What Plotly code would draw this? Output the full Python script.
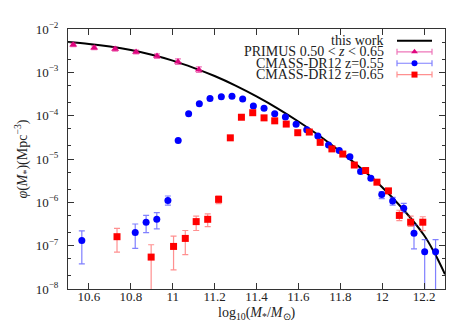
import plotly.graph_objects as go

# -----------------------------------------------------------------------------
# Dados (log10 M* e phi em Mpc^-3)
# -----------------------------------------------------------------------------
fit_x = [10.5, 10.6, 10.7, 10.8, 10.9, 11.0, 11.1, 11.2, 11.3, 11.4,
         11.5, 11.6, 11.7, 11.8, 11.9, 12.0, 12.1, 12.2, 12.25, 12.3]
fit_phi = [5.01e-3, 4.52e-3, 3.94e-3, 3.27e-3, 2.54e-3, 1.86e-3, 1.27e-3,
           8.22e-4, 4.95e-4, 2.79e-4, 1.48e-4, 7.33e-5, 3.43e-5, 1.48e-5,
           6.03e-6, 2.24e-6, 6.92e-7, 1.74e-7, 6.76e-8, 2.19e-8]

primus_x = [10.525, 10.625, 10.725, 10.825, 10.925, 11.025, 11.125]
primus_phi = [4.31e-3, 3.70e-3, 3.44e-3, 2.95e-3, 2.37e-3, 1.76e-3, 1.15e-3]
primus_hi = [4.80e-3, 4.10e-3, 3.80e-3, 3.28e-3, 2.66e-3, 2.05e-3, 1.33e-3]
primus_lo = [3.90e-3, 3.33e-3, 3.10e-3, 2.65e-3, 2.11e-3, 1.52e-3, 0.99e-3]

cmass55_x = [10.566, 10.821, 10.873, 10.924, 10.977,
             11.026, 11.076, 11.127, 11.178, 11.232, 11.283, 11.334, 11.385,
             11.436, 11.487, 11.538, 11.589, 11.640, 11.693, 11.744, 11.795,
             11.846, 11.897, 11.946, 11.998, 12.050, 12.103, 12.152, 12.203,
             12.255]
cmass55_phi = [1.31e-7, 2.00e-7, 3.48e-7, 4.06e-7, 1.10e-6,
               2.67e-5, 1.11e-4, 1.89e-4, 2.49e-4, 2.72e-4, 2.82e-4, 2.42e-4,
               1.68e-4, 1.49e-4, 1.11e-4, 9.35e-5, 6.32e-5, 4.71e-5, 3.40e-5,
               2.10e-5, 1.57e-5, 1.13e-5, 5.14e-6, 3.59e-6, 1.52e-6, 1.08e-6,
               7.26e-7, 1.93e-7, 7.2e-8, 7.2e-8]
cmass55_hi = [2.19e-7, 3.16e-7, 5.0e-7, 5.8e-7, 1.40e-6,
              2.78e-5, 1.15e-4, 1.95e-4, 2.57e-4, 2.81e-4, 2.91e-4, 2.50e-4,
              1.74e-4, 1.55e-4, 1.16e-4, 9.8e-5, 6.6e-5, 4.95e-5, 3.6e-5,
              2.23e-5, 1.68e-5, 1.22e-5, 5.6e-6, 3.95e-6, 1.75e-6, 1.30e-6,
              9.5e-7, 3.03e-7, 1.38e-7, 1.38e-7]
cmass55_lo = [3.80e-8, 8.7e-8, 2.0e-7, 2.43e-7, 8.6e-7,
              2.56e-5, 1.07e-4, 1.83e-4, 2.41e-4, 2.63e-4, 2.73e-4, 2.34e-4,
              1.62e-4, 1.43e-4, 1.06e-4, 8.9e-5, 6.0e-5, 4.47e-5, 3.2e-5,
              1.97e-5, 1.46e-5, 1.04e-5, 4.7e-6, 3.25e-6, 1.22e-6, 8.6e-7,
              5.8e-7, 8.4e-8, 1e-9, 1e-9]

cmass65_x = [10.734, 10.897, 11.004, 11.060, 11.112, 11.167, 11.219,
             11.275, 11.328, 11.382, 11.436, 11.487, 11.542, 11.597, 11.652,
             11.704, 11.760, 11.812, 11.867, 11.921, 11.975, 12.030, 12.082,
             12.136, 12.194]
cmass65_phi = [1.61e-7, 5.45e-8, 9.6e-8, 1.47e-7, 3.59e-7, 4.06e-7, 1.17e-6,
               3.08e-5, 9.2e-5, 1.17e-4, 8.9e-5, 7.6e-5, 6.4e-5, 4.04e-5,
               4.19e-5, 2.42e-5, 1.71e-5, 1.30e-5, 7.26e-6, 5.42e-6, 2.92e-6,
               1.84e-6, 4.99e-7, 3.48e-7, 3.48e-7]
cmass65_hi = [2.51e-7, 1.05e-7, 1.66e-7, 2.24e-7, 4.8e-7, 5.4e-7, 1.41e-6,
              3.2e-5, 9.6e-5, 1.22e-4, 9.3e-5, 7.95e-5, 6.7e-5, 4.25e-5,
              4.4e-5, 2.55e-5, 1.8e-5, 1.38e-5, 7.7e-6, 5.8e-6, 3.15e-6,
              2.05e-6, 6.56e-7, 4.81e-7, 4.65e-7]
cmass65_lo = [7.1e-8, 1e-9, 2.75e-8, 6.2e-8, 2.24e-7, 2.75e-7, 9.3e-7,
              2.96e-5, 8.8e-5, 1.12e-4, 8.5e-5, 7.25e-5, 6.1e-5, 3.83e-5,
              3.98e-5, 2.29e-5, 1.62e-5, 1.22e-5, 6.8e-6, 5.05e-6, 2.7e-6,
              1.65e-6, 3.78e-7, 2.77e-7, 2.22e-7]

x_ticks = [10.6, 10.8, 11.0, 11.2, 11.4, 11.6, 11.8, 12.0, 12.2]
x_labels = ["10.6", "10.8", "11", "11.2", "11.4", "11.6", "11.8", "12", "12.2"]
y_ticks = [1e-8, 1e-7, 1e-6, 1e-5, 1e-4, 1e-3, 1e-2]
y_labels = ["10<sup>−%d</sup>" % k for k in range(8, 1, -1)]
y_minor = [m * 10.0 ** e for e in range(-8, -2) for m in (2, 5)]

legend_labels = ["this work", "PRIMUS 0.50 &lt; <i>z</i> &lt; 0.65",
                 "CMASS-DR12 z=0.55", "CMASS-DR12 z=0.65"]
x_title = "log<sub>10</sub>(<i>M</i><sub>*</sub>/<i>M</i><sub>⊙</sub>)"
y_title = "<i>φ</i>(<i>M</i><sub>*</sub>)(Mpc<sup>−3</sup>)"

# -----------------------------------------------------------------------------
# Estilo
# -----------------------------------------------------------------------------
FONT = "Liberation Serif, Times New Roman, serif"
TEXT = "#222222"
AXIS = "#333333"
MAGENTA = "#e0067f"
BLUE = "#0000ff"
RED = "#ff0000"
SERIES = [
    # (x, phi, hi, lo, cor, cor da barra, símbolo, tamanho)
    (primus_x, primus_phi, primus_hi, primus_lo, MAGENTA, "rgba(224,6,127,0.55)", "triangle-up", 7),
    (cmass55_x, cmass55_phi, cmass55_hi, cmass55_lo, BLUE, "rgba(60,60,255,0.65)", "circle", 7),
    (cmass65_x, cmass65_phi, cmass65_hi, cmass65_lo, RED, "rgba(255,70,70,0.6)", "square", 7),
]

fig = go.Figure()

fig.add_trace(go.Scatter(x=fit_x, y=fit_phi, mode="lines", line_shape="spline",
                         line=dict(color="black", width=2), showlegend=False))

for xs, ys, hi, lo, col, ecol, sym, size in SERIES:
    fig.add_trace(go.Scatter(
        x=xs, y=ys, mode="markers", showlegend=False,
        marker=dict(color=col, symbol=sym, size=size, line=dict(width=0)),
        error_y=dict(type="data", symmetric=False,
                     array=[h - v for h, v in zip(hi, ys)],
                     arrayminus=[v - l for v, l in zip(ys, lo)],
                     color=ecol, thickness=1.2, width=3),
    ))

# Legenda no estilo gnuplot: eixo auxiliar em pixels (x: 60..437, y: 13..281)
leg_rows = [25, 36.5, 48.3, 60]
leg_x0, leg_x1, leg_text_x = 389, 424, 378
fig.add_trace(go.Scatter(x=[leg_x0, leg_x1], y=[leg_rows[0]] * 2, mode="lines",
                         line=dict(color="black", width=2), xaxis="x2", yaxis="y2",
                         showlegend=False, hoverinfo="skip"))
for row, (_, _, _, _, col, ecol, sym, size) in zip(leg_rows[1:], SERIES):
    mid = (leg_x0 + leg_x1) / 2
    fig.add_trace(go.Scatter(
        x=[mid], y=[row], mode="markers", xaxis="x2", yaxis="y2",
        showlegend=False, hoverinfo="skip",
        marker=dict(color=col, symbol=sym, size=size - 1),
        error_x=dict(type="constant", value=(leg_x1 - leg_x0) / 2,
                     color=ecol, thickness=1.2, width=3),
    ))
for row, label in zip(leg_rows, legend_labels):
    fig.add_annotation(x=leg_text_x, y=row, xref="x2", yref="y2", text=label,
                       showarrow=False, xanchor="right", yanchor="middle",
                       font=dict(family=FONT, size=14, color=TEXT))

# título do eixo x como anotação (papel), para controlar a posição vertical
fig.add_annotation(x=0.5, y=-0.095, xref="paper", yref="paper", text=x_title,
                   showarrow=False, xanchor="center", yanchor="middle",
                   font=dict(family=FONT, size=14, color=TEXT))

fig.update_layout(
    width=457, height=320,
    margin=dict(l=60, r=20, t=13, b=39),
    paper_bgcolor="white", plot_bgcolor="white",
    font=dict(family=FONT, size=13, color=TEXT),
    showlegend=False,
    xaxis=dict(
        range=[10.5, 12.3], tickvals=x_ticks, ticktext=x_labels,
        ticks="inside", ticklen=6, tickcolor=AXIS, showline=True,
        linecolor=AXIS, linewidth=1, mirror="ticks", showgrid=False,
        zeroline=False, ticklabelstandoff=-5,
    ),
    yaxis=dict(
        type="log", range=[-8, -2], tickvals=y_ticks, ticktext=y_labels,
        ticks="inside", ticklen=6, tickcolor=AXIS, showline=True,
        linecolor=AXIS, linewidth=1, mirror="ticks", showgrid=False,
        zeroline=False, ticklabelstandoff=6,
        minor=dict(tickvals=y_minor, ticks="inside", ticklen=3, tickcolor=AXIS,
                   showgrid=False),
        title=dict(text=y_title, font=dict(size=14), standoff=4),
    ),
    xaxis2=dict(range=[60, 437], overlaying="x", visible=False),
    yaxis2=dict(range=[281, 13], overlaying="y", visible=False),
)

fig.write_html("out.html")
